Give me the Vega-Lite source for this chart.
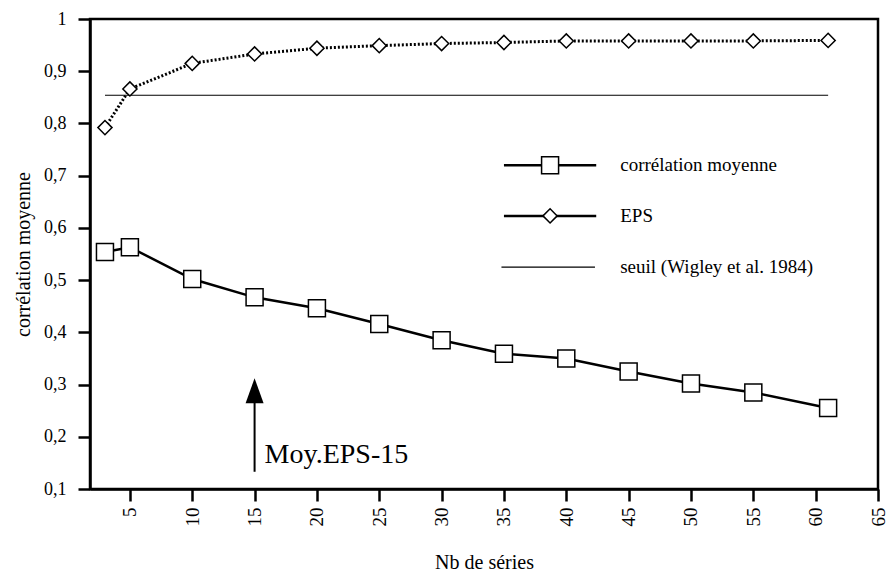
{
  "$schema": "https://vega.github.io/schema/vega-lite/v6.json",
  "width": 788,
  "height": 470,
  "autosize": "none",
  "padding": {"left": 90, "top": 19, "right": 13, "bottom": 83},
  "background": "white",
  "config": {
    "view": {"stroke": "black", "strokeWidth": 2.5},
    "font": "Liberation Serif",
    "axis": {
      "domainColor": "black", "domainWidth": 2.5,
      "tickColor": "black", "tickWidth": 2.5, "tickSize": 12,
      "labelColor": "black", "titleColor": "black",
      "labelFont": "Liberation Serif", "titleFont": "Liberation Serif",
      "titleFontWeight": "normal", "grid": false
    }
  },
  "datasets": {
    "series": [
      {"serie": "corrélation moyenne", "x": 3, "y": 0.554},
      {"serie": "corrélation moyenne", "x": 5, "y": 0.563},
      {"serie": "corrélation moyenne", "x": 10, "y": 0.502},
      {"serie": "corrélation moyenne", "x": 15, "y": 0.467},
      {"serie": "corrélation moyenne", "x": 20, "y": 0.446},
      {"serie": "corrélation moyenne", "x": 25, "y": 0.416},
      {"serie": "corrélation moyenne", "x": 30, "y": 0.385},
      {"serie": "corrélation moyenne", "x": 35, "y": 0.359},
      {"serie": "corrélation moyenne", "x": 40, "y": 0.350},
      {"serie": "corrélation moyenne", "x": 45, "y": 0.325},
      {"serie": "corrélation moyenne", "x": 50, "y": 0.302},
      {"serie": "corrélation moyenne", "x": 55, "y": 0.285},
      {"serie": "corrélation moyenne", "x": 61, "y": 0.255},
      {"serie": "EPS", "x": 3, "y": 0.792},
      {"serie": "EPS", "x": 5, "y": 0.866},
      {"serie": "EPS", "x": 10, "y": 0.915},
      {"serie": "EPS", "x": 15, "y": 0.933},
      {"serie": "EPS", "x": 20, "y": 0.944},
      {"serie": "EPS", "x": 25, "y": 0.949},
      {"serie": "EPS", "x": 30, "y": 0.953},
      {"serie": "EPS", "x": 35, "y": 0.955},
      {"serie": "EPS", "x": 40, "y": 0.958},
      {"serie": "EPS", "x": 45, "y": 0.958},
      {"serie": "EPS", "x": 50, "y": 0.958},
      {"serie": "EPS", "x": 55, "y": 0.958},
      {"serie": "EPS", "x": 61, "y": 0.959},
      {"serie": "seuil (Wigley et al. 1984)", "x": 3, "y": 0.854},
      {"serie": "seuil (Wigley et al. 1984)", "x": 61, "y": 0.854}
    ],
    "legende": [
      {"serie": "corrélation moyenne"},
      {"serie": "EPS"},
      {"serie": "seuil (Wigley et al. 1984)"}
    ],
    "fleche": [
      {"x": 15, "debut": 0.133, "fin": 0.266, "tete": 0.288, "texte": 0.15, "label": "Moy.EPS-15"}
    ]
  },
  "data": {"name": "series"},
  "layer": [
    {
      "transform": [{"filter": "datum.serie === 'seuil (Wigley et al. 1984)'"}],
      "mark": {"type": "line", "color": "black", "strokeWidth": 1.2},
      "encoding": {
        "x": {"field": "x", "type": "quantitative",
          "scale": {"domain": [1.8, 65], "nice": false, "zero": false},
          "axis": {"title": "Nb de séries", "values": [5, 10, 15, 20, 25, 30, 35, 40, 45, 50, 55, 60, 65],
            "labelAngle": -90, "labelAlign": "right", "labelBaseline": "middle",
            "labelFontSize": 19, "labelPadding": 6, "titleFontSize": 20, "titlePadding": 26, "labelFlush": false, "labelOverlap": false}},
        "y": {"field": "y", "type": "quantitative",
          "scale": {"domain": [0.1, 1], "nice": false, "zero": false},
          "axis": {"title": "corrélation moyenne", "values": [0.1, 0.2, 0.3, 0.4, 0.5, 0.6, 0.7, 0.8, 0.9, 1],
            "labelExpr": "replace(format(datum.value, '.1~f'), '.', ',')",
            "labelFontSize": 18, "labelPadding": 12, "titleFontSize": 20, "titlePadding": 10, "labelFlush": false, "labelOverlap": false}}
      }
    },
    {
      "transform": [{"filter": "datum.serie === 'corrélation moyenne'"}],
      "mark": {"type": "line", "color": "black", "strokeWidth": 2.5},
      "encoding": {
        "x": {"field": "x", "type": "quantitative"},
        "y": {"field": "y", "type": "quantitative"}
      }
    },
    {
      "transform": [{"filter": "datum.serie === 'EPS'"}],
      "mark": {"type": "line", "color": "black", "strokeWidth": 3, "strokeDash": [2, 2]},
      "encoding": {
        "x": {"field": "x", "type": "quantitative"},
        "y": {"field": "y", "type": "quantitative"}
      }
    },
    {
      "transform": [{"filter": "datum.serie === 'corrélation moyenne'"}],
      "mark": {"type": "point", "shape": "square", "size": 289, "fill": "white", "stroke": "black", "strokeWidth": 1.5, "opacity": 1},
      "encoding": {
        "x": {"field": "x", "type": "quantitative"},
        "y": {"field": "y", "type": "quantitative"}
      }
    },
    {
      "transform": [{"filter": "datum.serie === 'EPS'"}],
      "mark": {"type": "point", "shape": "diamond", "size": 200, "fill": "white", "stroke": "black", "strokeWidth": 1.5, "opacity": 1},
      "encoding": {
        "x": {"field": "x", "type": "quantitative"},
        "y": {"field": "y", "type": "quantitative"}
      }
    },
    {
      "data": {"name": "legende"},
      "transform": [{"filter": "datum.serie === 'corrélation moyenne'"}],
      "mark": {"type": "rule", "color": "black", "strokeWidth": 2.5},
      "encoding": {
        "x": {"datum": 35.0, "type": "quantitative"},
        "x2": {"datum": 42.4},
        "y": {"datum": 0.72, "type": "quantitative"}
      }
    },
    {
      "data": {"name": "legende"},
      "transform": [{"filter": "datum.serie === 'EPS'"}],
      "mark": {"type": "rule", "color": "black", "strokeWidth": 2.5},
      "encoding": {
        "x": {"datum": 35.0, "type": "quantitative"},
        "x2": {"datum": 42.4},
        "y": {"datum": 0.623, "type": "quantitative"}
      }
    },
    {
      "data": {"name": "legende"},
      "transform": [{"filter": "datum.serie === 'seuil (Wigley et al. 1984)'"}],
      "mark": {"type": "rule", "color": "black", "strokeWidth": 1.2},
      "encoding": {
        "x": {"datum": 34.8, "type": "quantitative"},
        "x2": {"datum": 42.3},
        "y": {"datum": 0.525, "type": "quantitative"}
      }
    },
    {
      "data": {"name": "legende"},
      "transform": [{"filter": "datum.serie === 'corrélation moyenne'"}],
      "mark": {"type": "point", "shape": "square", "size": 289, "fill": "white", "stroke": "black", "strokeWidth": 1.5, "opacity": 1},
      "encoding": {
        "x": {"datum": 38.7, "type": "quantitative"},
        "y": {"datum": 0.72, "type": "quantitative"}
      }
    },
    {
      "data": {"name": "legende"},
      "transform": [{"filter": "datum.serie === 'EPS'"}],
      "mark": {"type": "point", "shape": "diamond", "size": 200, "fill": "white", "stroke": "black", "strokeWidth": 1.5, "opacity": 1},
      "encoding": {
        "x": {"datum": 38.7, "type": "quantitative"},
        "y": {"datum": 0.623, "type": "quantitative"}
      }
    },
    {
      "data": {"name": "legende"},
      "transform": [{"filter": "datum.serie === 'corrélation moyenne'"}],
      "mark": {"type": "text", "align": "left", "baseline": "middle", "dx": 24, "fontSize": 19, "font": "Liberation Serif", "color": "black"},
      "encoding": {
        "x": {"datum": 42.4, "type": "quantitative"},
        "y": {"datum": 0.72, "type": "quantitative"},
        "text": {"field": "serie"}
      }
    },
    {
      "data": {"name": "legende"},
      "transform": [{"filter": "datum.serie === 'EPS'"}],
      "mark": {"type": "text", "align": "left", "baseline": "middle", "dx": 24, "fontSize": 19, "font": "Liberation Serif", "color": "black"},
      "encoding": {
        "x": {"datum": 42.4, "type": "quantitative"},
        "y": {"datum": 0.623, "type": "quantitative"},
        "text": {"field": "serie"}
      }
    },
    {
      "data": {"name": "legende"},
      "transform": [{"filter": "datum.serie === 'seuil (Wigley et al. 1984)'"}],
      "mark": {"type": "text", "align": "left", "baseline": "middle", "dx": 24, "fontSize": 19, "font": "Liberation Serif", "color": "black"},
      "encoding": {
        "x": {"datum": 42.4, "type": "quantitative"},
        "y": {"datum": 0.525, "type": "quantitative"},
        "text": {"field": "serie"}
      }
    },
    {
      "data": {"name": "fleche"},
      "mark": {"type": "rule", "color": "black", "strokeWidth": 2},
      "encoding": {
        "x": {"field": "x", "type": "quantitative"},
        "y": {"field": "debut", "type": "quantitative"},
        "y2": {"field": "fin"}
      }
    },
    {
      "data": {"name": "fleche"},
      "mark": {"type": "point", "shape": "M0,-1L0.72,1L-0.72,1Z", "size": 625, "filled": true, "color": "black", "opacity": 1},
      "encoding": {
        "x": {"field": "x", "type": "quantitative"},
        "y": {"field": "tete", "type": "quantitative"}
      }
    },
    {
      "data": {"name": "fleche"},
      "mark": {"type": "text", "align": "left", "baseline": "alphabetic", "dx": 10, "fontSize": 28, "font": "Liberation Serif", "color": "black"},
      "encoding": {
        "x": {"field": "x", "type": "quantitative"},
        "y": {"field": "texte", "type": "quantitative"},
        "text": {"field": "label"}
      }
    }
  ]
}
